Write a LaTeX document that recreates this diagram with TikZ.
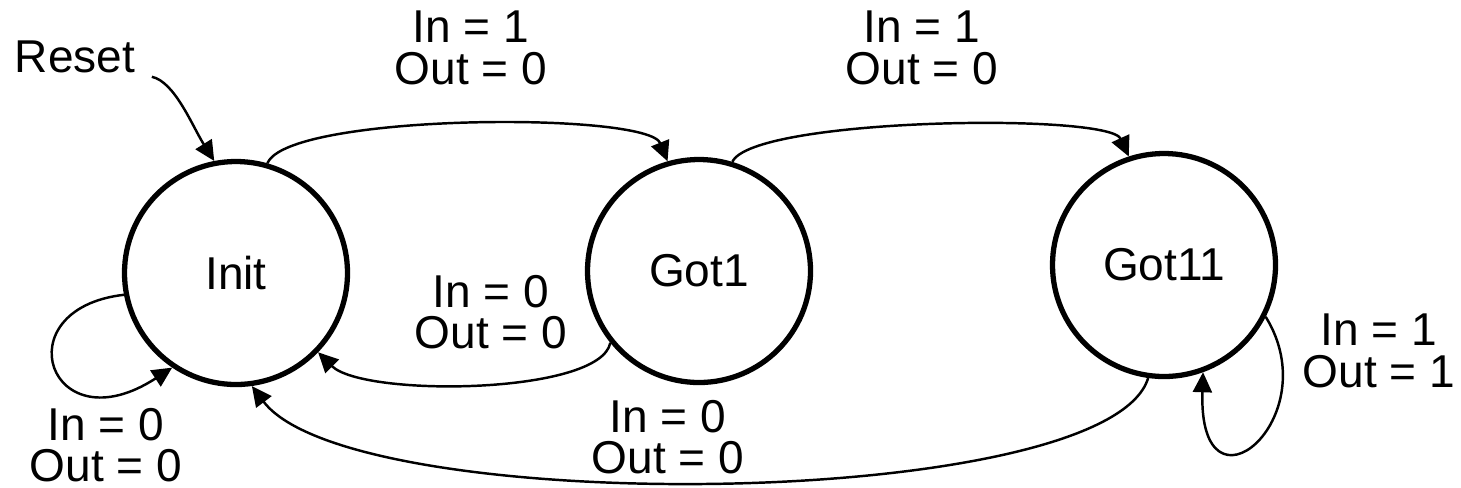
\documentclass[tikz,border=0pt]{standalone}
\usepackage{fontspec}
\setmainfont{Liberation Sans}
\usetikzlibrary{arrows.meta}
\begin{document}
\begin{tikzpicture}
			% Styles des états et des transitions
			\tikzset{ etat/.style={circle, draw, line width=1.5pt, minimum size=2.23cm, inner sep=0pt},
				trans/.style={line width=0.7pt, -{Triangle[length=0.2cm, width=0.19cm]}},
				etiq/.style={align=center, inner sep=0pt, font=\fontsize{13.1}{11.8}\selectfont} }
			\useasboundingbox (0,0) rectangle (14.61,4.87);
			\node[etat, font=\fontsize{13.1}{11.8}\selectfont] (init) at (2.36,2.14) {Init};
			\node[etat, font=\fontsize{13.1}{11.8}\selectfont] (got1) at (6.99,2.16) {Got1};
			\node[etat, font=\fontsize{13.1}{11.8}\selectfont] (got11) at (11.64,2.22) {Got11};
			\node[etiq] (reset) at (0.75,4.30) {Reset};
			\coordinate (rstart) at ([shift={(0.16,-0.03)}]reset.south east);
			% Étiquettes des transitions
			\node[etiq] (l1) at (4.71,4.39) {In = 1\\Out = 0};
			\node[etiq] (l2) at (9.22,4.39) {In = 1\\Out = 0};
			\node[etiq] (l3) at (4.91,1.75) {In = 0\\Out = 0};
			\node[etiq] (l4) at (6.68,0.50) {In = 0\\Out = 0};
			\node[etiq] (l5) at (1.06,0.42) {In = 0\\Out = 0};
			\node[etiq] (l6) at (13.79,1.36) {In = 1\\Out = 1};
			% Transitions
			\draw[trans] (rstart) .. controls +(0.23,-0.05) and +(-0.22,0.35) .. (init.101);
			\draw[trans] (init.74) .. controls +(0.2,0.5) and +(-0.2,0.5) .. (got1.106);
			\draw[trans] (got1.73) .. controls +(0.2,0.44) and +(-0.2,0.44) .. (got11.108);
			\draw[trans] (got1.219) .. controls +(-0.1,-0.52) and +(0.45,-0.45) .. (init.-44);
			\draw[trans] (got11.-98) .. controls +(-0.4,-1.33) and +(1.0,-1.33) .. (init.-82);
			\draw[trans] (init.191) .. controls +(-1.22,-0.14) and +(-1.23,-0.80) .. (init.-124);
			\draw[trans] (got11.-27) .. controls +(0.63,-1.02) and +(-0.05,-1.55) .. (got11.-70);
		\end{tikzpicture}
\end{document}
